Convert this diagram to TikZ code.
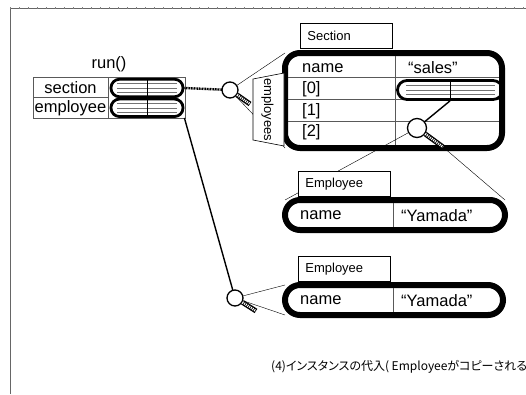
\documentclass[tikz,border=0pt]{standalone}
\usepackage{fontspec}
\setmainfont{Liberation Sans}
\newfontfamily\jpfont[RawFeature=+palt]{Noto Sans CJK JP}
\usetikzlibrary{calc}

\begin{document}
\begin{tikzpicture}[x=1pt, y=-1pt,
    cell/.style={inner sep=0, font=\fontsize{16.5}{16.5}\selectfont},
    classtag/.style={draw, line width=0.8pt, fill=white, anchor=north west, minimum height=25pt, text width=78pt, inner xsep=7pt, inner ysep=0pt, align=left, font=\fontsize{13}{13}\selectfont},
    rule/.style={draw=black!65, line width=0.5pt},
    objbox/.style={draw, line width=6pt, rounded corners=15pt, fill=white},
    refpill/.style={draw, line width=2.8pt, rounded corners=8.5pt, inner sep=0},
    hatch/.style={draw=black!55, line width=0.5pt},
    lens/.style={draw, circle, line width=1.3pt, fill=white, inner sep=0},
    sight/.style={line width=0.4pt},
    handle/.style={line width=5pt},
    handlehatch/.style={white, line width=2.4pt, dash pattern=on 1pt off 1pt}]
    \useasboundingbox (0,0) rectangle (526,394);
    \clip (0,0) rectangle (526,394);
    % frame of the slide
    \draw[black!60, line width=0.8pt] (10,394) -- (10,8) -- (526,8);
    \draw[black!50, line width=2pt, dash pattern=on 0.5pt off 8.5pt] (10,8) -- (526,8);

    % centres of the lenses
    \coordinate (c1) at (230,90);
    \coordinate (c2) at (235,298);
    \coordinate (c3) at (417,128);
    \coordinate (h1) at (250,104);
    \coordinate (h2) at (256,311);
    \coordinate (h3) at (443,147);

    % run() frame
    \node[cell] (run) at (109,64) {run()};
    \draw[rule] (33,77) rectangle (185,118);
    \draw[rule] (108,77) -- (108,118);
    \draw[rule] (33,97.5) -- (108,97.5);
    \node[cell] (secvar) at (70.5,87.5) {section};
    \node[cell] (empvar) at (70.5,108) {employee};
    \draw[hatch] (117,83.5) -- (177,83.5);
    \draw[hatch] (117,88) -- (177,88);
    \draw[hatch] (117,92.5) -- (177,92.5);
    \draw[hatch] (117,103.5) -- (177,103.5);
    \draw[hatch] (117,108) -- (177,108);
    \draw[hatch] (117,112.5) -- (177,112.5);
    \draw[line width=0.8pt] (147,79) -- (147,117);
    \node[refpill, minimum width=72pt, minimum height=17.5pt] (secref) at (147,88) {};
    \node[refpill, minimum width=72pt, minimum height=17.5pt] (empref) at (147,107.8) {};

    % Section object
    \draw[sight] (c1) -- (285,53);
    \draw[sight] (c1) -- (285,148);
    \draw[objbox] (285,53) rectangle (502,148);
    \draw[rule] (288,77.5) -- (499,77.5);
    \draw[rule] (288,99.5) -- (499,99.5);
    \draw[rule] (288,121.5) -- (499,121.5);
    \draw[rule] (395,56) -- (395,145);
    \node[cell, anchor=west] (secname) at (302,68) {name};
    \node[cell, anchor=west] (secval) at (408,68) {``sales''};
    \node[cell, anchor=west] (item0) at (302,89) {[0]};
    \node[cell, anchor=west] (item1) at (302,111) {[1]};
    \node[cell, anchor=west] (item2) at (302,132) {[2]};
    \draw[hatch] (406,85.5) -- (495,85.5);
    \draw[hatch] (406,90) -- (495,90);
    \draw[hatch] (406,94.5) -- (495,94.5);
    \draw[line width=0.8pt] (450,81) -- (450,99);
    \node[refpill, minimum width=105pt, minimum height=19pt, rounded corners=9.5pt] (itemref) at (450,90) {};
    \draw[fill=white, line width=0.6pt] (253,79) -- (284,73) -- (284,146) -- (253,140) -- cycle;
    \node[rotate=-90, inner sep=0, font=\fontsize{13}{13}\selectfont] (tab) at (267.5,110) {employees};
    \node[classtag] (sectag) at (300,23) {Section};

    % Employee objects
    \draw[sight] (c3) -- (285,200);
    \draw[sight] (h3) -- (505,200);
    \draw[sight] (c2) -- (285,285);
    \draw[sight] (c2) -- (285,315);
    \draw[objbox] (285,200) rectangle (505,230);
    \draw[rule] (393,203) -- (393,227);
    \node[cell, anchor=west] (empname1) at (300,215.5) {name};
    \node[cell, anchor=west] (empval1) at (401,215.5) {``Yamada''};
    \node[classtag] (emptag1) at (298,171) {Employee};
    \draw[objbox] (285,285) rectangle (503,315);
    \draw[rule] (393,288) -- (393,312);
    \node[cell, anchor=west] (empname2) at (300,300.5) {name};
    \node[cell, anchor=west] (empval2) at (401,300.5) {``Yamada''};
    \node[classtag] (emptag2) at (298,256) {Employee};

    % references and lenses
    \draw[line width=2.4pt, dash pattern=on 1pt off 0.6pt] (secref.east) -- (c1);
    \draw[line width=1.4pt] (empref.south east) -- (c2);
    \draw[line width=1.4pt] (itemref.south) -- (c3);
    \node[lens, minimum size=16pt] (lens1) at (c1) {};
    \node[lens, minimum size=16pt] (lens2) at (c2) {};
    \node[lens, minimum size=19pt] (lens3) at (c3) {};
    \draw[handle] (lens1.-35) -- (h1);
    \draw[handlehatch] (lens1.-35) -- (h1);
    \draw[handle] (lens2.-30) -- (h2);
    \draw[handlehatch] (lens2.-30) -- (h2);
    \draw[handle] (lens3.-36) -- (h3);
    \draw[handlehatch] (lens3.-36) -- (h3);

    % caption
    \node[anchor=west, inner sep=0, font=\jpfont\fontsize{12}{12}\selectfont] (caption) at (271,367) {(4)インスタンスの代入( Employeeがコピーされる};
\end{tikzpicture}
\end{document}
